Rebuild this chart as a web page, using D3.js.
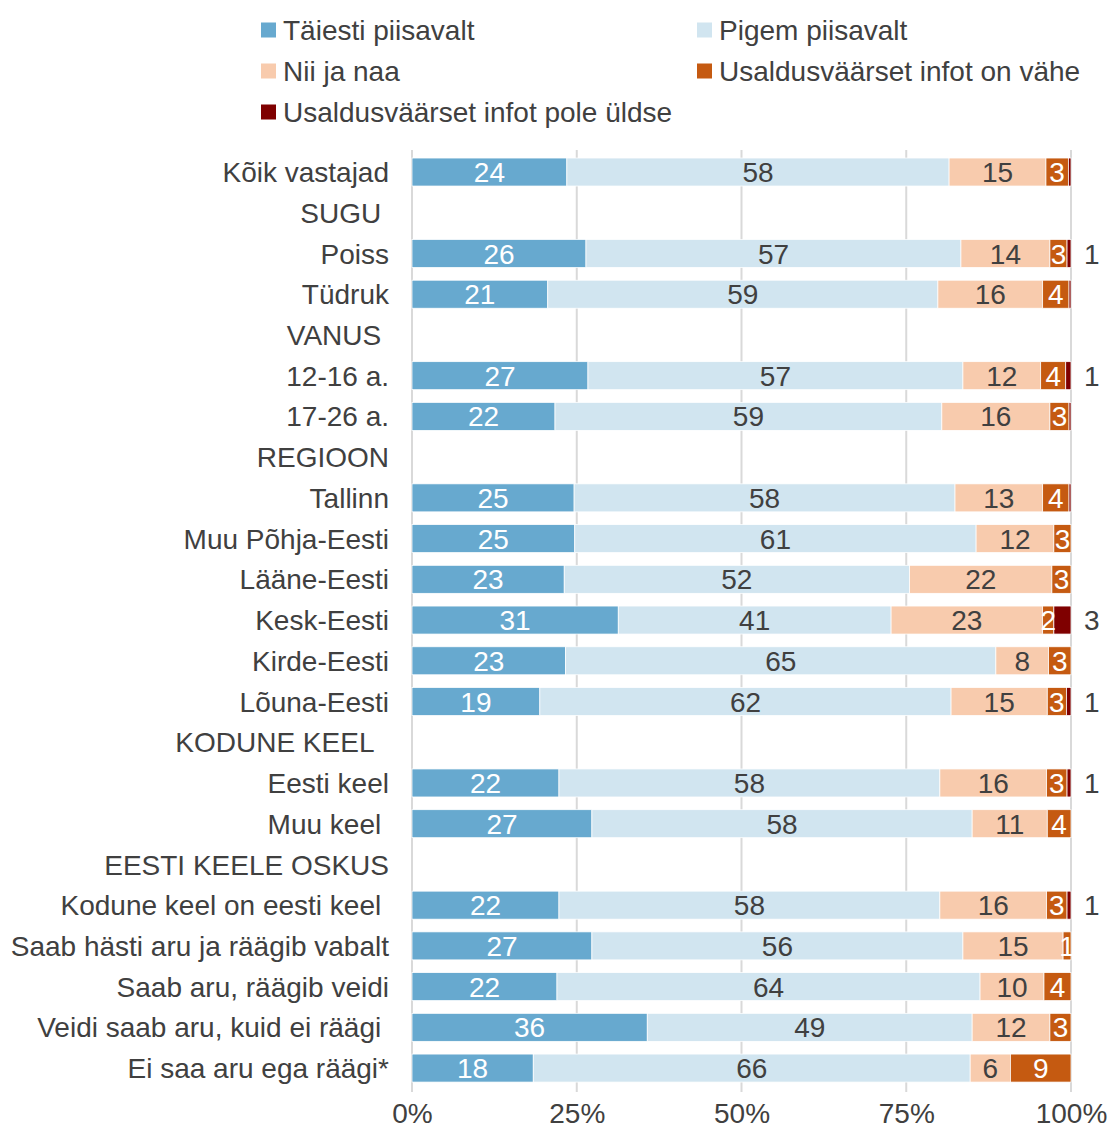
<!DOCTYPE html>
<html>
<head>
<meta charset="utf-8">
<script src="https://cdn.jsdelivr.net/npm/d3@7"></script>
<style>
  html, body { margin: 0; padding: 0; background: #fff; }
  svg { display: block; font-family: "Liberation Sans", Arial, sans-serif; }
  text { white-space: pre; }
</style>
</head>
<body>
<svg id="chart" width="1109" height="1131"></svg>
<script>
// ---- DATA ----
const categories = [
  "Kõik vastajad", "SUGU ", "Poiss", "Tüdruk", "VANUS ", "12-16 a.", "17-26 a.",
  "REGIOON", "Tallinn", "Muu Põhja-Eesti", "Lääne-Eesti", "Kesk-Eesti", "Kirde-Eesti", "Lõuna-Eesti",
  "KODUNE KEEL  ", "Eesti keel", "Muu keel ", "EESTI KEELE OSKUS",
  "Kodune keel on eesti keel ", "Saab hästi aru ja räägib vabalt", "Saab aru, räägib veidi",
  "Veidi saab aru, kuid ei räägi ", "Ei saa aru ega räägi*"
];
const seriesNames = [
  "Täiesti piisavalt", "Pigem piisavalt", "Nii ja naa",
  "Usaldusväärset infot on vähe", "Usaldusväärset infot pole üldse"
];
// null = group header row (no bar)
const taiestiPiisavalt = [23.5, null, 26.4, 20.6, null, 26.7, 21.7, null, 24.6, 24.7, 23.1, 31.3, 23.3, 19.4, null, 22.3, 27.3, null, 22.3, 27.3, 22.0, 35.7, 18.4];
const pigemPiisavalt   = [58.0, null, 56.9, 59.2, null, 56.9, 58.7, null, 57.8, 60.9, 52.4, 41.4, 65.3, 62.4, null, 57.8, 57.7, null, 57.8, 56.3, 64.2, 49.3, 66.3];
const niiJaNaa         = [14.7, null, 13.5, 15.9, null, 11.8, 16.4, null, 13.3, 11.8, 21.6, 23.0, 8.0, 14.6, null, 16.2, 11.4, null, 16.2, 15.2, 9.7, 11.8, 6.1];
const infotOnVahe      = [3.4, null, 2.6, 4.0, null, 3.8, 2.9, null, 4.0, 2.6, 2.9, 1.7, 3.4, 2.9, null, 3.1, 3.6, null, 3.1, 1.2, 4.1, 3.2, 9.2];
const infotPoleUldse   = [0.4, null, 0.6, 0.3, null, 0.8, 0.3, null, 0.3, 0, 0, 2.6, 0, 0.7, null, 0.6, 0, null, 0.6, 0, 0, 0, 0];
const xTicks = [0, 25, 50, 75, 100];
const tickLabels = ["0%", "25%", "50%", "75%", "100%"];
const colors = ["#67A9CF", "#D1E5F0", "#F8CBAD", "#C55A11", "#7F0000"];
const labelColors = ["#ffffff", "#404040", "#404040", "#ffffff", "#404040"];

// ---- CHART ----
const svg = d3.select("#chart");
const textColor = "#404040";
const fontSize = 28;

const x = d3.scaleLinear().domain([0, 100]).range([412, 1071]);
const y = d3.scaleBand().domain(d3.range(categories.length)).range([145.3, 1094.8]).padding(0.3125);

// gridlines
svg.append("g").selectAll("line").data(xTicks).join("line")
  .attr("x1", d => x(d)).attr("x2", d => x(d))
  .attr("y1", 150).attr("y2", 1092)
  .attr("stroke", "#D9D9D9").attr("stroke-width", 2);

// x tick labels
const xAxis = d3.axisBottom(x).tickValues(xTicks).tickFormat((d, i) => tickLabels[i]).tickSize(0).tickPadding(0);
const gx = svg.append("g").attr("transform", "translate(0,1103)").call(xAxis);
gx.select(".domain").remove();
gx.selectAll("text").attr("fill", textColor).attr("font-size", fontSize)
  .attr("font-family", "'Liberation Sans', Arial, sans-serif");

// category labels
svg.append("g").selectAll("text").data(categories).join("text")
  .attr("x", 389).attr("y", (d, i) => y(i) + y.bandwidth() / 2)
  .attr("dy", "0.36em").attr("text-anchor", "end")
  .attr("font-size", fontSize).attr("fill", textColor)
  .text(d => d);

// stacked data
const allSeries = [taiestiPiisavalt, pigemPiisavalt, niiJaNaa, infotOnVahe, infotPoleUldse];
const rows = categories.map((c, i) => {
  const r = { i };
  allSeries.forEach((s, k) => r[k] = s[i] == null ? 0 : s[i]);
  r.header = taiestiPiisavalt[i] == null;
  return r;
});
const stack = d3.stack().keys(d3.range(5));
const stacked = stack(rows);

const gBars = svg.append("g");
stacked.forEach((layer, k) => {
  const g = gBars.append("g");
  layer.forEach((seg, i) => {
    const r = rows[i];
    if (r.header) return;
    const v = seg[1] - seg[0];
    if (v <= 0) return;
    g.append("rect")
      .attr("x", x(seg[0])).attr("y", y(i))
      .attr("width", x(seg[1]) - x(seg[0])).attr("height", y.bandwidth())
      .attr("fill", colors[k]).attr("stroke", "#fff").attr("stroke-width", 0.75);
  });
});

// value labels
stacked.forEach((layer, k) => {
  layer.forEach((seg, i) => {
    const r = rows[i];
    if (r.header) return;
    const v = seg[1] - seg[0];
    const lab = Math.round(v);
    if (lab < 1) return;
    const cy = y(i) + y.bandwidth() / 2;
    if (k === 4) {
      svg.append("text").attr("x", x(100) + 13).attr("y", cy).attr("dy", "0.36em")
        .attr("font-size", fontSize).attr("fill", textColor).text(lab);
    } else {
      svg.append("text").attr("x", (x(seg[0]) + x(seg[1])) / 2).attr("y", cy).attr("dy", "0.36em")
        .attr("text-anchor", "middle")
        .attr("font-size", fontSize).attr("fill", labelColors[k]).text(lab);
    }
  });
});

// legend
const legendPos = [[261, 30], [697, 30], [261, 71], [697, 71], [261, 112]];
const lg = svg.append("g");
seriesNames.forEach((n, k) => {
  const [lx, ly] = legendPos[k];
  lg.append("rect").attr("x", lx).attr("y", ly - 7.5).attr("width", 15).attr("height", 15).attr("fill", colors[k]);
  lg.append("text").attr("x", lx + 22).attr("y", ly).attr("dy", "0.36em")
    .attr("font-size", fontSize).attr("fill", textColor).text(n);
});
</script>
</body>
</html>
